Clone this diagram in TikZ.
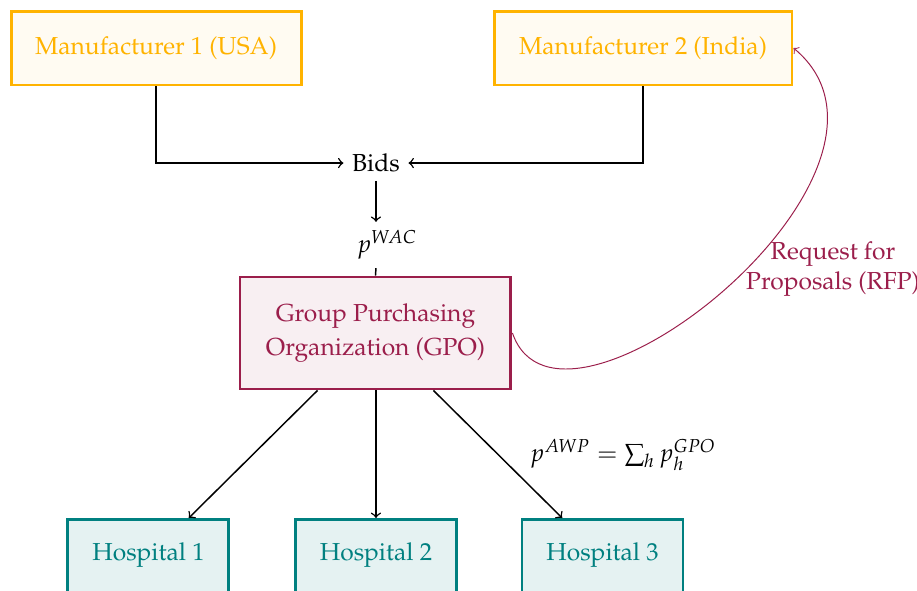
\documentclass[tikz,border=0pt]{standalone}
\usepackage[T1]{fontenc}
\usepackage{mathpazo}
\usepackage{amsmath}
\usepackage{tikz}
\usetikzlibrary{positioning}
\usetikzlibrary{%
  calc,%
  arrows%
}
\definecolor{mfrorange}{RGB}{255,179,0}
\definecolor{gpored}{RGB}{155,30,75}
\definecolor{hospteal}{RGB}{0,128,128}

\begin{document}
\begin{tikzpicture}[
	mfr/.style={draw=mfrorange, fill=mfrorange!5, text=mfrorange, line width=1.2pt, minimum height=1.057cm},
	gpo/.style={draw=gpored, fill=gpored!7, text=gpored, line width=1.2pt, minimum width=3.871cm, minimum height=1.6cm, align=center},
	hosp/.style={draw=hospteal, fill=hospteal!10, text=hospteal, line width=1.2pt, minimum width=2.3cm, minimum height=1.1cm, text depth=5pt, anchor=north},
	flow/.style={->, semithick}
]
\useasboundingbox (0,0) rectangle (13.1,-8.43);

\node[mfr, minimum width=4.143cm] (M1) at (2.229,-0.686) {Manufacturer 1 (USA)};
\node[mfr, minimum width=4.257cm] (M2) at (9.186,-0.686) {Manufacturer 2 (India)};
\node (bids) at (5.371,-2.329) {Bids};
\node (pwac) at (5.529,-3.5) {$p^{WAC}$};
\node[gpo] (gpo) at (5.364,-4.757) {Group Purchasing\\[2pt] Organization (GPO)};
\node[hosp] (H1) at (2.121,-7.4) {Hospital 1};
\node[hosp] (H2) at (5.371,-7.4) {Hospital 2};
\node[hosp] (H3) at (8.607,-7.4) {Hospital 3};
\node (awp) at (8.9,-6.5) {$p^{AWP} = \sum_h p_h^{GPO}$};
\node[text=gpored, align=center] (rfp) at (11.9,-3.843) {Request for\\ Proposals (RFP)};

\draw
	(M1.south) edge[flow, to path={|- (\tikztotarget)}] (bids.west)
	(M2.south) edge[flow, to path={|- (\tikztotarget)}] (bids.east)
	(bids.south) edge[flow] (bids.south |- pwac.north)
	(bids.south |- pwac.south) edge[semithick] (gpo.north)
	(gpo) edge[flow] (H1)
	(gpo.south -| H2) edge[flow] (H2)
	(gpo) edge[flow] (H3)
;
\draw[->, gpored, thin] (gpo.east) .. controls (8,-6.75) and (13.43,-2.43) .. (M2.east);
\end{tikzpicture}
\end{document}
